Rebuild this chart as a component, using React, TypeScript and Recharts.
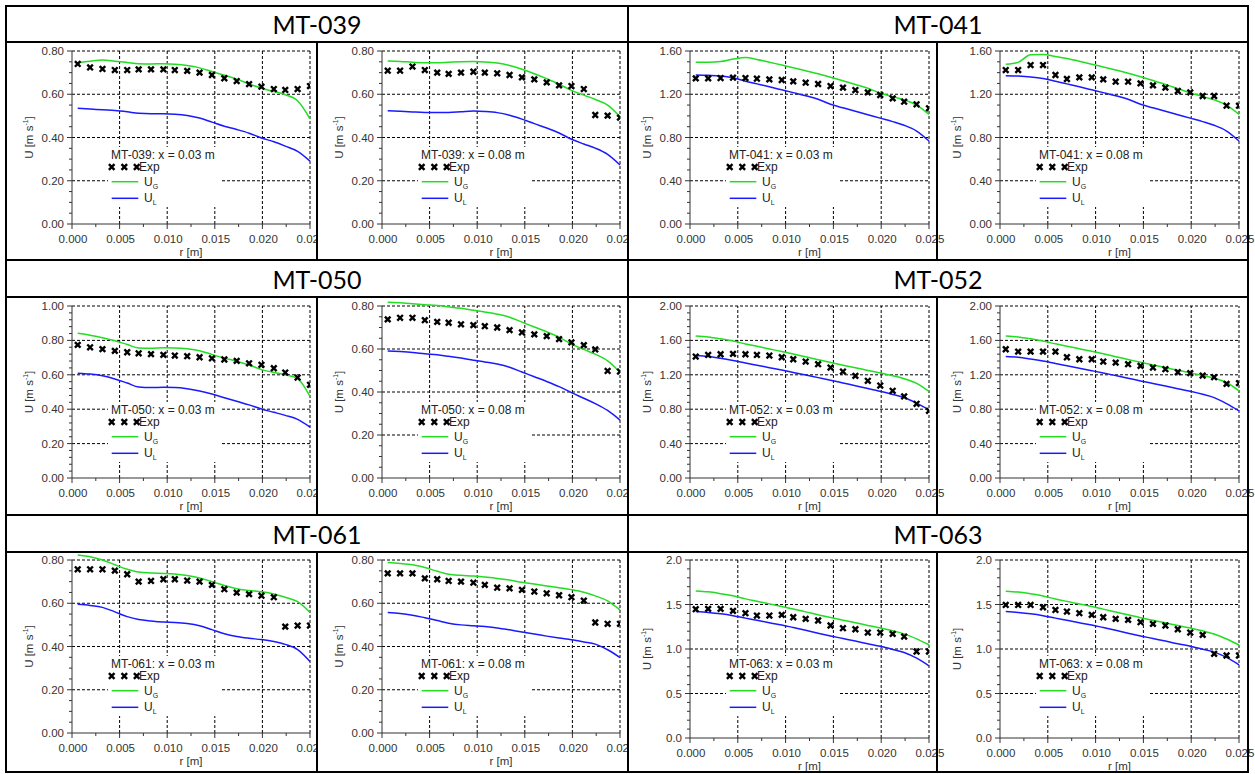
import React from 'react';
import {
  ComposedChart,
  Legend,
  Line,
  ReferenceLine,
  Scatter,
  XAxis,
  YAxis,
} from 'recharts';

const FONT = '"Liberation Sans", Arial, sans-serif';
const INK = '#333333';
const GREEN = '#22dd22';
const BLUE = '#1a1aff';

// radial positions of measurement / model points [m]
const R_POS = [
  0.0006, 0.0019, 0.0032, 0.0045, 0.0058, 0.007, 0.0083, 0.0096, 0.0108, 0.0121,
  0.0134, 0.0147, 0.016, 0.0173, 0.0186, 0.0199, 0.0212, 0.0224, 0.0237, 0.025,
];

const X_MAJOR = [0, 0.005, 0.01, 0.015, 0.02, 0.025];
const X_MINOR = [0.0025, 0.0075, 0.0125, 0.0175, 0.0225];

const Y08_MAJOR = [0, 0.2, 0.4, 0.6, 0.8];
const Y08_MINOR = [0.05, 0.1, 0.15, 0.25, 0.3, 0.35, 0.45, 0.5, 0.55, 0.65, 0.7, 0.75];
const Y10_MAJOR = [0, 0.2, 0.4, 0.6, 0.8, 1.0];
const Y10_MINOR = [0.04, 0.08, 0.12, 0.16, 0.24, 0.28, 0.32, 0.36, 0.44, 0.48, 0.52, 0.56, 0.64, 0.68, 0.72, 0.76, 0.84, 0.88, 0.92, 0.96];
const Y16_MAJOR = [0, 0.4, 0.8, 1.2, 1.6];
const Y16_MINOR = [0.1, 0.2, 0.3, 0.5, 0.6, 0.7, 0.9, 1.0, 1.1, 1.3, 1.4, 1.5];
const Y20_MAJOR = [0, 0.4, 0.8, 1.2, 1.6, 2.0];
const Y20_MINOR = [0.08, 0.16, 0.24, 0.32, 0.48, 0.56, 0.64, 0.72, 0.88, 0.96, 1.04, 1.12, 1.28, 1.36, 1.44, 1.52, 1.68, 1.76, 1.84, 1.92];
const Y2H_MAJOR = [0, 0.5, 1.0, 1.5, 2.0];
const Y2H_MINOR = [0.1, 0.2, 0.3, 0.4, 0.6, 0.7, 0.8, 0.9, 1.1, 1.2, 1.3, 1.4, 1.6, 1.7, 1.8, 1.9];

// MT-039
const EXP_039_03 = [0.740, 0.724, 0.717, 0.712, 0.712, 0.715, 0.715, 0.715, 0.712, 0.708, 0.700, 0.689, 0.674, 0.661, 0.647, 0.635, 0.624, 0.620, 0.624, 0.638];
const UG_039_03 = [0.746, 0.753, 0.758, 0.753, 0.747, 0.741, 0.740, 0.741, 0.739, 0.733, 0.722, 0.705, 0.688, 0.670, 0.648, 0.628, 0.613, 0.598, 0.570, 0.486];
const UL_039_03 = [0.535, 0.532, 0.528, 0.525, 0.519, 0.512, 0.510, 0.510, 0.508, 0.502, 0.490, 0.471, 0.452, 0.437, 0.420, 0.398, 0.380, 0.360, 0.336, 0.291];
const EXP_039_08 = [0.709, 0.709, 0.728, 0.712, 0.700, 0.694, 0.700, 0.704, 0.700, 0.697, 0.689, 0.678, 0.669, 0.655, 0.641, 0.638, 0.624, 0.504, 0.501, 0.492];
const UG_039_08 = [0.754, 0.752, 0.748, 0.746, 0.746, 0.748, 0.750, 0.751, 0.749, 0.744, 0.733, 0.716, 0.695, 0.672, 0.647, 0.618, 0.596, 0.576, 0.550, 0.496];
const UL_039_08 = [0.524, 0.521, 0.518, 0.516, 0.516, 0.516, 0.519, 0.522, 0.520, 0.515, 0.503, 0.485, 0.464, 0.444, 0.421, 0.392, 0.370, 0.351, 0.322, 0.273];

// MT-041
const EXP_041_03 = [1.347, 1.347, 1.350, 1.353, 1.350, 1.344, 1.338, 1.332, 1.319, 1.307, 1.295, 1.276, 1.261, 1.239, 1.217, 1.193, 1.162, 1.131, 1.107, 1.070];
const UG_041_03 = [1.495, 1.495, 1.502, 1.525, 1.540, 1.522, 1.496, 1.470, 1.446, 1.418, 1.390, 1.357, 1.324, 1.290, 1.255, 1.212, 1.178, 1.148, 1.100, 1.014];
const UL_041_03 = [1.378, 1.375, 1.369, 1.352, 1.321, 1.296, 1.269, 1.241, 1.215, 1.186, 1.154, 1.107, 1.075, 1.043, 1.011, 0.979, 0.947, 0.913, 0.860, 0.768];
const EXP_041_08 = [1.424, 1.424, 1.470, 1.470, 1.378, 1.341, 1.356, 1.356, 1.338, 1.316, 1.316, 1.301, 1.282, 1.261, 1.230, 1.217, 1.184, 1.184, 1.094, 1.094];
const UG_041_08 = [1.477, 1.495, 1.566, 1.568, 1.550, 1.530, 1.505, 1.478, 1.452, 1.425, 1.395, 1.362, 1.327, 1.291, 1.252, 1.213, 1.180, 1.148, 1.100, 1.014];
const UL_041_08 = [1.372, 1.368, 1.360, 1.346, 1.321, 1.296, 1.269, 1.241, 1.215, 1.186, 1.154, 1.107, 1.075, 1.043, 1.011, 0.979, 0.947, 0.913, 0.860, 0.768];

// MT-050
const EXP_050_03 = [0.774, 0.760, 0.749, 0.739, 0.731, 0.725, 0.720, 0.716, 0.712, 0.708, 0.702, 0.696, 0.689, 0.681, 0.667, 0.658, 0.638, 0.613, 0.584, 0.542];
const UG_050_03 = [0.841, 0.830, 0.816, 0.798, 0.776, 0.756, 0.754, 0.757, 0.756, 0.751, 0.740, 0.718, 0.697, 0.679, 0.657, 0.630, 0.614, 0.600, 0.578, 0.474];
const UL_050_03 = [0.609, 0.604, 0.594, 0.576, 0.552, 0.529, 0.526, 0.527, 0.526, 0.519, 0.506, 0.488, 0.467, 0.446, 0.425, 0.401, 0.382, 0.364, 0.341, 0.296];
const EXP_050_08 = [0.738, 0.745, 0.745, 0.734, 0.726, 0.722, 0.715, 0.711, 0.706, 0.700, 0.688, 0.677, 0.668, 0.660, 0.646, 0.631, 0.618, 0.598, 0.498, 0.495];
const UG_050_08 = [0.818, 0.815, 0.811, 0.806, 0.802, 0.796, 0.789, 0.780, 0.772, 0.762, 0.748, 0.725, 0.702, 0.680, 0.655, 0.623, 0.598, 0.576, 0.545, 0.492];
const UL_050_08 = [0.591, 0.588, 0.584, 0.578, 0.573, 0.566, 0.558, 0.548, 0.540, 0.530, 0.515, 0.493, 0.471, 0.449, 0.425, 0.397, 0.371, 0.346, 0.314, 0.269];

// MT-052
const EXP_052_03 = [1.412, 1.431, 1.439, 1.443, 1.439, 1.431, 1.424, 1.404, 1.381, 1.354, 1.323, 1.284, 1.238, 1.188, 1.130, 1.075, 1.014, 0.948, 0.863, 0.781];
const UG_052_03 = [1.652, 1.640, 1.618, 1.592, 1.559, 1.532, 1.501, 1.471, 1.442, 1.409, 1.376, 1.343, 1.312, 1.282, 1.251, 1.221, 1.189, 1.155, 1.100, 1.006];
const UL_052_03 = [1.424, 1.414, 1.392, 1.366, 1.337, 1.311, 1.283, 1.255, 1.227, 1.197, 1.167, 1.137, 1.105, 1.073, 1.041, 1.008, 0.972, 0.936, 0.870, 0.793];
const EXP_052_08 = [1.497, 1.470, 1.470, 1.470, 1.470, 1.404, 1.381, 1.381, 1.354, 1.342, 1.323, 1.304, 1.284, 1.265, 1.230, 1.219, 1.191, 1.172, 1.095, 1.103];
const UG_052_08 = [1.652, 1.640, 1.618, 1.592, 1.560, 1.533, 1.503, 1.473, 1.444, 1.411, 1.378, 1.345, 1.314, 1.284, 1.253, 1.223, 1.192, 1.160, 1.110, 1.013];
const UL_052_08 = [1.412, 1.404, 1.384, 1.360, 1.331, 1.305, 1.277, 1.248, 1.221, 1.191, 1.161, 1.129, 1.099, 1.069, 1.039, 1.008, 0.973, 0.935, 0.865, 0.781];

// MT-061
const EXP_061_03 = [0.757, 0.757, 0.757, 0.751, 0.734, 0.700, 0.703, 0.711, 0.711, 0.705, 0.700, 0.685, 0.665, 0.649, 0.642, 0.635, 0.628, 0.492, 0.497, 0.497];
const UG_061_03 = [0.823, 0.815, 0.800, 0.778, 0.757, 0.744, 0.740, 0.738, 0.735, 0.728, 0.717, 0.700, 0.682, 0.667, 0.659, 0.653, 0.643, 0.628, 0.607, 0.557];
const UL_061_03 = [0.595, 0.590, 0.581, 0.560, 0.538, 0.525, 0.518, 0.513, 0.511, 0.506, 0.496, 0.478, 0.459, 0.446, 0.438, 0.432, 0.423, 0.410, 0.386, 0.331];
const EXP_061_08 = [0.738, 0.738, 0.738, 0.715, 0.711, 0.703, 0.700, 0.695, 0.685, 0.672, 0.669, 0.662, 0.654, 0.646, 0.637, 0.628, 0.612, 0.511, 0.505, 0.505];
const UG_061_08 = [0.788, 0.784, 0.778, 0.765, 0.748, 0.734, 0.729, 0.726, 0.721, 0.715, 0.707, 0.697, 0.689, 0.680, 0.672, 0.663, 0.651, 0.634, 0.611, 0.569];
const UL_061_08 = [0.557, 0.553, 0.545, 0.533, 0.520, 0.508, 0.500, 0.496, 0.492, 0.486, 0.477, 0.467, 0.458, 0.448, 0.439, 0.431, 0.421, 0.411, 0.385, 0.349];

// MT-063
const EXP_063_03 = [1.447, 1.451, 1.451, 1.428, 1.402, 1.376, 1.376, 1.383, 1.357, 1.338, 1.320, 1.264, 1.234, 1.222, 1.185, 1.185, 1.170, 1.140, 0.972, 0.972];
const UG_063_03 = [1.652, 1.642, 1.622, 1.598, 1.563, 1.536, 1.507, 1.478, 1.449, 1.417, 1.385, 1.353, 1.324, 1.295, 1.265, 1.236, 1.205, 1.170, 1.114, 1.047];
const UL_063_03 = [1.421, 1.410, 1.395, 1.374, 1.347, 1.322, 1.295, 1.270, 1.241, 1.210, 1.178, 1.147, 1.118, 1.089, 1.059, 1.030, 0.995, 0.960, 0.897, 0.811];
const EXP_063_08 = [1.495, 1.495, 1.495, 1.469, 1.439, 1.421, 1.402, 1.383, 1.357, 1.338, 1.327, 1.301, 1.282, 1.264, 1.222, 1.185, 1.159, 0.946, 0.927, 0.927];
const UG_063_08 = [1.650, 1.640, 1.620, 1.596, 1.562, 1.535, 1.506, 1.477, 1.448, 1.416, 1.384, 1.352, 1.323, 1.294, 1.264, 1.235, 1.204, 1.168, 1.112, 1.045];
const UL_063_08 = [1.421, 1.410, 1.395, 1.374, 1.347, 1.322, 1.295, 1.270, 1.241, 1.210, 1.178, 1.147, 1.118, 1.089, 1.059, 1.032, 0.998, 0.965, 0.905, 0.822];

type Scale = { max: number; major: number[]; minor: number[]; digits: number };

const S08: Scale = { max: 0.8, major: Y08_MAJOR, minor: Y08_MINOR, digits: 2 };
const S10: Scale = { max: 1.0, major: Y10_MAJOR, minor: Y10_MINOR, digits: 2 };
const S16: Scale = { max: 1.6, major: Y16_MAJOR, minor: Y16_MINOR, digits: 2 };
const S20: Scale = { max: 2.0, major: Y20_MAJOR, minor: Y20_MINOR, digits: 2 };
const S2H: Scale = { max: 2.0, major: Y2H_MAJOR, minor: Y2H_MINOR, digits: 1 };

const CASES = [
  { name: 'MT-039', scales: [S08, S08], exp: [EXP_039_03, EXP_039_08], ug: [UG_039_03, UG_039_08], ul: [UL_039_03, UL_039_08] },
  { name: 'MT-041', scales: [S16, S16], exp: [EXP_041_03, EXP_041_08], ug: [UG_041_03, UG_041_08], ul: [UL_041_03, UL_041_08] },
  { name: 'MT-050', scales: [S10, S08], exp: [EXP_050_03, EXP_050_08], ug: [UG_050_03, UG_050_08], ul: [UL_050_03, UL_050_08] },
  { name: 'MT-052', scales: [S20, S20], exp: [EXP_052_03, EXP_052_08], ug: [UG_052_03, UG_052_08], ul: [UL_052_03, UL_052_08] },
  { name: 'MT-061', scales: [S08, S08], exp: [EXP_061_03, EXP_061_08], ug: [UG_061_03, UG_061_08], ul: [UL_061_03, UL_061_08] },
  { name: 'MT-063', scales: [S2H, S2H], exp: [EXP_063_03, EXP_063_08], ug: [UG_063_03, UG_063_08], ul: [UL_063_03, UL_063_08] },
];
const POSITIONS = ['0.03', '0.08'];

// page geometry (table cells)
const COLS = [
  { left: 7, w: 309, yw: 65, mr: 6 },
  { left: 318, w: 309, yw: 64, mr: 7 },
  { left: 629, w: 307, yw: 61, mr: 7 },
  { left: 938, w: 309, yw: 62, mr: 8 },
];
const ROWS = [
  { titleTop: 7, titleH: 34, top: 43, h: 216, mt: 8, xh: [35, 35] },
  { titleTop: 261, titleH: 35, top: 298, h: 216, mt: 8, xh: [36, 36] },
  { titleTop: 516, titleH: 35, top: 553, h: 218, mt: 7, xh: [38, 33] },
];

const isIn = (list: number[], v: number) => list.some((m) => Math.abs(m - v) < 1e-9);

function XMark({ cx, cy }: { cx?: number; cy?: number }) {
  if (cx == null || cy == null) return null;
  const s = 2.8;
  return (
    <path
      d={`M${cx - s},${cy - s}L${cx + s},${cy + s}M${cx - s},${cy + s}L${cx + s},${cy - s}`}
      stroke="#000"
      strokeWidth={2.4}
      fill="none"
    />
  );
}

function XTick(props: any) {
  const { x, y, payload } = props;
  const major = isIn(X_MAJOR, payload.value);
  return (
    <g>
      <line x1={x} x2={x} y1={y} y2={y + (major ? 5 : 3)} stroke={INK} />
      {major && (
        <text x={x + 1} y={y + 19} textAnchor="middle" fontSize={11.5} fontFamily={FONT} fill={INK}>
          {payload.value.toFixed(3)}
        </text>
      )}
    </g>
  );
}

function makeYTick(scale: Scale) {
  return (props: any) => {
    const { x, y, payload } = props;
    const major = isIn(scale.major, payload.value);
    return (
      <g>
        <line x1={x} x2={x - (major ? 5 : 3)} y1={y} y2={y} stroke={INK} />
        {major && (
          <text x={x - 8} y={y + 4} textAnchor="end" fontSize={11.5} fontFamily={FONT} fill={INK}>
            {payload.value.toFixed(scale.digits)}
          </text>
        )}
      </g>
    );
  };
}

function LegendBox({ title }: { title: string }) {
  const sub = { fontSize: 7, position: 'relative' as const, top: 3 };
  return (
    <div style={{ position: 'relative', width: 114, height: 60, background: '#fff', fontFamily: FONT, fontSize: 12, lineHeight: '14px', color: '#222' }}>
      <svg width={114} height={60} style={{ position: 'absolute', left: 0, top: 0 }}>
        {[3.7, 16.3, 28.7].map((cx) => (
          <XMark key={cx} cx={cx} cy={20} />
        ))}
        <line x1={3.7} x2={30.3} y1={34.7} y2={34.7} stroke={GREEN} strokeWidth={1.5} />
        <line x1={3.7} x2={30.3} y1={51.3} y2={51.3} stroke={BLUE} strokeWidth={1.5} />
      </svg>
      <div style={{ position: 'absolute', left: 3, top: 1, whiteSpace: 'nowrap' }}>{title}</div>
      <div style={{ position: 'absolute', left: 31, top: 13 }}>Exp</div>
      <div style={{ position: 'absolute', left: 36, top: 28, whiteSpace: 'nowrap' }}>
        U<span style={sub}>G</span>
      </div>
      <div style={{ position: 'absolute', left: 36, top: 44, whiteSpace: 'nowrap' }}>
        U<span style={sub}>L</span>
      </div>
    </div>
  );
}

type PanelProps = {
  left: number;
  top: number;
  width: number;
  height: number;
  yw: number;
  mt: number;
  mr: number;
  xh: number;
  title: string;
  scale: Scale;
  exp: number[];
  ug: number[];
  ul: number[];
};

function Panel(p: PanelProps) {
  const rows = R_POS.map((r, i) => ({ r, exp: p.exp[i], ug: p.ug[i], ul: p.ul[i] }));
  const plotW = p.width - p.yw - p.mr;
  const plotH = p.height - p.mt - p.xh;
  const plotBottom = p.mt + plotH;
  const yTick = makeYTick(p.scale);
  const ylx = p.yw - 43;
  const yly = p.mt + plotH / 2;

  return (
    <div style={{ position: 'absolute', left: p.left, top: p.top, width: p.width, height: p.height, background: '#fff' }}>
      <ComposedChart
        width={p.width}
        height={p.height}
        data={rows}
        margin={{ top: p.mt, right: p.mr, bottom: 0, left: 0 }}
      >
        <XAxis
          type="number"
          dataKey="r"
          domain={[0, 0.025]}
          ticks={[...X_MAJOR, ...X_MINOR]}
          interval={0}
          tickSize={0}
          tickMargin={0}
          height={p.xh}
          allowDataOverflow
          axisLine={{ stroke: INK }}
          tick={(t: any) => <XTick {...t} />}
          label={{
            content: () => (
              <text x={p.yw + plotW / 2} y={plotBottom + 32} textAnchor="middle" fontSize={11.5} fontFamily={FONT} fill={INK}>
                r [m]
              </text>
            ),
          }}
        />
        <YAxis
          type="number"
          domain={[0, p.scale.max]}
          ticks={[...p.scale.major, ...p.scale.minor]}
          interval={0}
          tickSize={0}
          tickMargin={0}
          width={p.yw}
          allowDataOverflow
          axisLine={{ stroke: INK }}
          tick={yTick}
          label={{
            content: () => (
              <text
                x={ylx}
                y={yly}
                transform={`rotate(-90 ${ylx} ${yly})`}
                textAnchor="middle"
                dominantBaseline="central"
                fontSize={11.5}
                fontFamily={FONT}
                fill={INK}
              >
                U [m s<tspan dy={-4} fontSize={7}>-1</tspan>
                <tspan dy={4}>]</tspan>
              </text>
            ),
          }}
        />
        {X_MAJOR.slice(1).map((v) => (
          <ReferenceLine key={`x${v}`} x={v} stroke="#000" strokeDasharray="3 2" />
        ))}
        {p.scale.major.slice(1).map((v) => (
          <ReferenceLine key={`y${v}`} y={v} stroke="#000" strokeDasharray="3 2" />
        ))}
        <Line type="monotone" dataKey="ug" stroke={GREEN} strokeWidth={1.5} dot={false} activeDot={false} isAnimationActive={false} />
        <Line type="monotone" dataKey="ul" stroke={BLUE} strokeWidth={1.5} dot={false} activeDot={false} isAnimationActive={false} />
        <Scatter dataKey="exp" fill="#000" isAnimationActive={false} shape={(s: any) => <XMark cx={s.cx} cy={s.cy} />} />
        <Legend
          layout="vertical"
          align="center"
          verticalAlign="middle"
          wrapperStyle={{ position: 'absolute', left: p.yw + 36, top: p.mt + 96, width: 114, height: 60 }}
          content={() => <LegendBox title={p.title} />}
        />
      </ComposedChart>
    </div>
  );
}

function Rule({ x, y, w, h }: { x: number; y: number; w: number; h: number }) {
  return <div style={{ position: 'absolute', left: x, top: y, width: w, height: h, background: '#000', zIndex: 5 }} />;
}

export default function App() {
  return (
    <div style={{ position: 'absolute', left: 0, top: 0, width: 1255, height: 774, background: '#fff', overflow: 'hidden' }}>
      <style>{`.recharts-line [clip-path], .recharts-line[clip-path] { clip-path: none; } .recharts-surface { overflow: visible; }`}</style>
      {CASES.map((c, ci) => {
        const row = ROWS[Math.floor(ci / 2)];
        const block = ci % 2;
        const c0 = COLS[block * 2];
        const c1 = COLS[block * 2 + 1];
        // right block: paint the outer panel first so the inner panel's last tick label stays visible
        const order = block === 1 ? [1, 0] : [0, 1];
        return (
          <React.Fragment key={c.name}>
            <div
              style={{
                position: 'absolute',
                left: c0.left,
                top: row.titleTop,
                width: c1.left + c1.w - c0.left,
                height: row.titleH,
                display: 'flex',
                alignItems: 'center',
                justifyContent: 'center',
                fontFamily: 'Lato, "Open Sans", sans-serif',
                fontSize: 25,
                color: '#000',
                background: '#fff',
              }}
            >
              {c.name}
            </div>
            {order.map((k) => {
              const col = COLS[block * 2 + k];
              return (
                <Panel
                  key={k}
                  left={col.left}
                  top={row.top}
                  width={col.w}
                  height={row.h}
                  yw={col.yw}
                  mt={row.mt}
                  mr={col.mr}
                  xh={row.xh[block]}
                  title={`${c.name}: x = ${POSITIONS[k]} m`}
                  scale={c.scales[k]}
                  exp={c.exp[k]}
                  ug={c.ug[k]}
                  ul={c.ul[k]}
                />
              );
            })}
          </React.Fragment>
        );
      })}
      {/* table rules */}
      {[5, 41, 259, 296, 514, 551, 771].map((y) => (
        <Rule key={`h${y}`} x={5} y={y} w={1244} h={2} />
      ))}
      {[5, 627, 1247].map((x) => (
        <Rule key={`v${x}`} x={x} y={5} w={2} h={768} />
      ))}
      {[316, 936].map((x) =>
        ROWS.map((r) => <Rule key={`i${x}-${r.top}`} x={x} y={r.top - 2} w={2} h={r.h + 2} />)
      )}
    </div>
  );
}
